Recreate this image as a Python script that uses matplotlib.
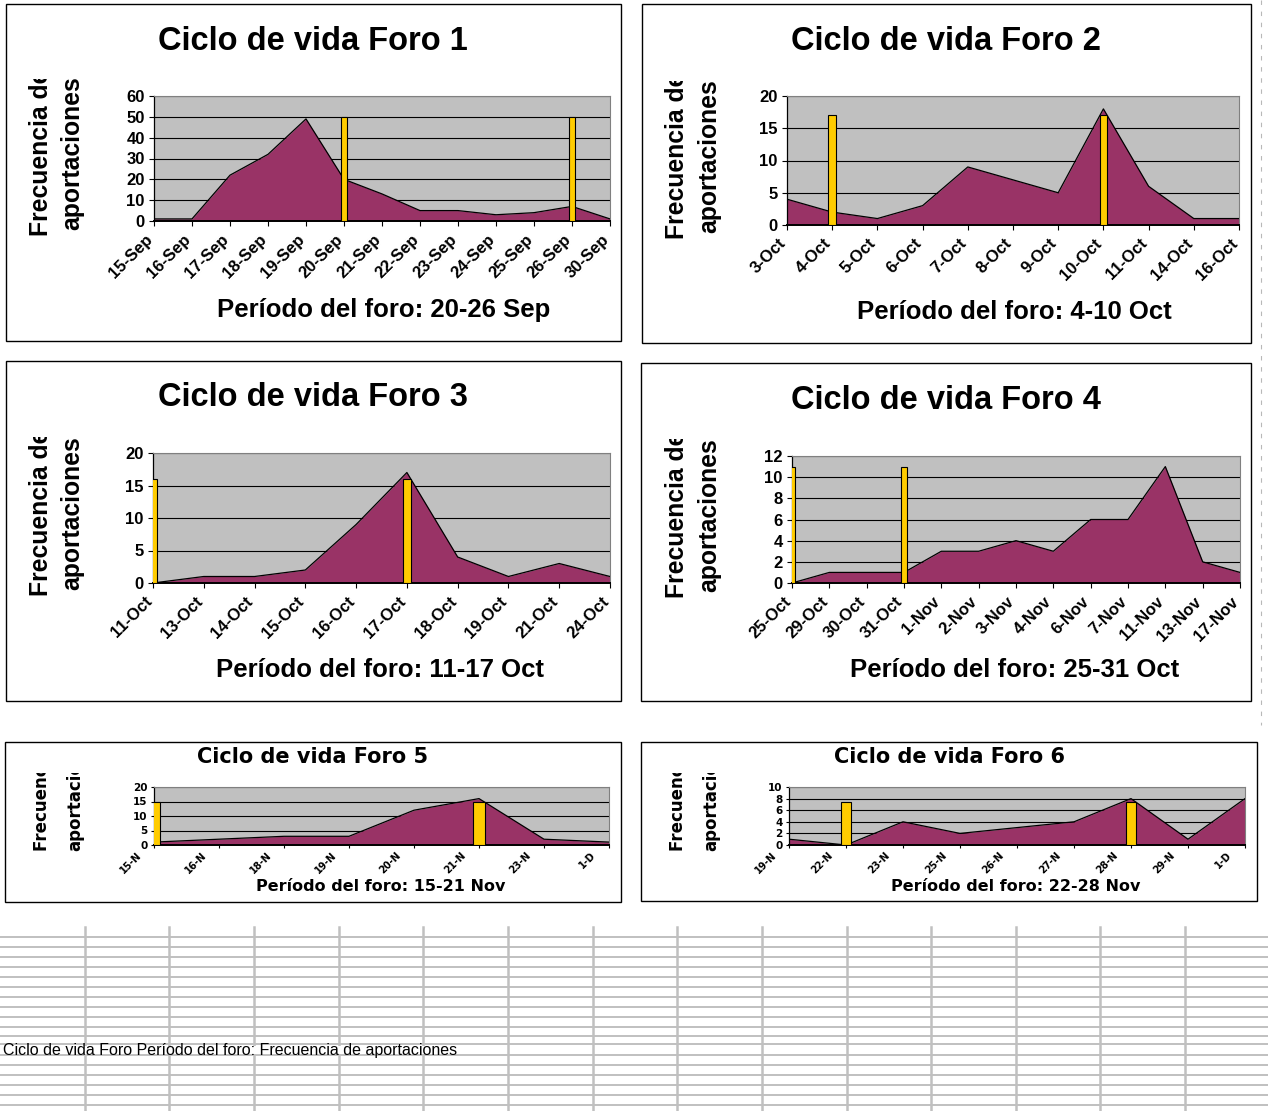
import numpy as np
import matplotlib.pyplot as plt
from matplotlib.patches import Rectangle
from matplotlib.transforms import Bbox, TransformedBbox, ScaledTranslation

foro1_fechas = ['15-Sep', '16-Sep', '17-Sep', '18-Sep', '19-Sep', '20-Sep', '21-Sep',
                '22-Sep', '23-Sep', '24-Sep', '25-Sep', '26-Sep', '30-Sep']
foro1_aportes = [1, 1, 22, 32, 49, 20, 13, 5, 5, 3, 4, 7, 1]
foro1_limites = ['20-Sep', '26-Sep']
foro1_alto = 50

foro2_fechas = ['3-Oct', '4-Oct', '5-Oct', '6-Oct', '7-Oct', '8-Oct', '9-Oct',
                '10-Oct', '11-Oct', '14-Oct', '16-Oct']
foro2_aportes = [4, 2, 1, 3, 9, 7, 5, 18, 6, 1, 1]
foro2_limites = ['4-Oct', '10-Oct']
foro2_alto = 17

foro3_fechas = ['11-Oct', '13-Oct', '14-Oct', '15-Oct', '16-Oct', '17-Oct', '18-Oct',
                '19-Oct', '21-Oct', '24-Oct']
foro3_aportes = [0, 1, 1, 2, 9, 17, 4, 1, 3, 1]
foro3_limites = ['11-Oct', '17-Oct']
foro3_alto = 16

foro4_fechas = ['25-Oct', '29-Oct', '30-Oct', '31-Oct', '1-Nov', '2-Nov', '3-Nov',
                '4-Nov', '6-Nov', '7-Nov', '11-Nov', '13-Nov', '17-Nov']
foro4_aportes = [0, 1, 1, 1, 3, 3, 4, 3, 6, 6, 11, 2, 1]
foro4_limites = ['25-Oct', '31-Oct']
foro4_alto = 11

foro5_fechas = ['15-N', '16-N', '18-N', '19-N', '20-N', '21-N', '23-N', '1-D']
foro5_aportes = [1, 2, 3, 3, 12, 16, 2, 1]
foro5_limites = ['15-N', '21-N']
foro5_alto = 15

foro6_fechas = ['19-N', '22-N', '23-N', '25-N', '26-N', '27-N', '28-N', '29-N', '1-D']
foro6_aportes = [1, 0, 4, 2, 3, 4, 8, 1, 8]
foro6_limites = ['22-N', '28-N']
foro6_alto = 7.5

W, H = 1268, 1111
fig = plt.figure(figsize=(W / 100, H / 100), dpi=100)
fondo = fig.add_axes([0, 0, 1, 1], zorder=0)
fondo.set_xlim(0, W)
fondo.set_ylim(H, 0)
fondo.axis('off')

ARIAL = ['Liberation Sans', 'DejaVu Sans']
ANCHA = ['DejaVu Sans']

# hoja de calculo de fondo
filas = np.r_[np.arange(937, 1028, 10), 1036, 1044, np.arange(1055, 1110, 10)]
for y in filas:
    fondo.plot([0, W], [y, y], color='#c0c0c0', lw=1.4, zorder=1)
for x in np.arange(1, 15) * 84.65:
    fondo.plot([x, x], [927, H], color='#c0c0c0', lw=1.8, zorder=1)
fondo.add_patch(Rectangle((0, 1045.5), 506, 8.5, color='white', lw=0, zorder=2))
fondo.text(3, 1050, 'Ciclo de vida Foro Período del foro: Frecuencia de aportaciones',
           fontsize=11.5, va='center', family=ARIAL, zorder=3)
fondo.plot([1261, 1261], [0, 725], color='#b8b8b8', lw=0.8, ls=(0, (4, 6)), zorder=1)


def recorte(y0, y1):
    return TransformedBbox(Bbox.from_extents(0, 1 - y1 / H, 1, 1 - y0 / H), fig.transFigure)


def grafico(fechas, aportes, limites, alto, ymax, paso, titulo, periodo, caja, area, lay):
    x0, y0, x1, y1 = caja
    fondo.add_patch(Rectangle((x0, y0), x1 - x0, y1 - y0, fill=False, ec='black', lw=1.0))
    l, t, r, b = area
    ax = fig.add_axes([l / W, 1 - b / H, (r - l) / W, (b - t) / H], zorder=2)
    ax.set_facecolor('#c0c0c0')
    x = np.arange(len(fechas))
    ax.fill_between(x, aportes, color='#993366', lw=0, zorder=2)
    ax.plot(x, aportes, color='black', lw=0.9, zorder=3)
    xb = [fechas.index(f) for f in limites]
    ax.bar(xb, [alto] * len(xb), width=0.17, color='#ffcc00', ec='black', lw=0.8, zorder=4)
    ax.set_xlim(0, len(fechas) - 1)
    ax.set_ylim(0, ymax)
    yt = np.arange(0, ymax + paso / 2, paso)
    ax.set_yticks(yt, labels=[str(int(v)) for v in yt], fontweight='bold',
                  fontsize=lay['ytick'], family=lay['fam'])
    ax.set_xticks(x, labels=fechas, rotation=45, ha='right', rotation_mode='anchor',
                  fontweight='bold', fontsize=lay['xtick'], family=lay['fam'])
    ax.yaxis.grid(True, color='black', lw=0.8)
    ax.set_axisbelow(True)
    ax.tick_params(direction='out', length=lay['tl'], width=0.8, colors='black')
    ax.tick_params(axis='x', pad=lay['xpad'])
    ax.tick_params(axis='y', pad=lay['ypad'])
    # corrimiento de las fechas para que queden como en excel
    off = ScaledTranslation(lay['dx'] / 100, lay['dy'] / 100, fig.dpi_scale_trans)
    for lab in ax.get_xticklabels():
        lab.set_transform(lab.get_transform() + off)
    for s in ['top', 'right']:
        ax.spines[s].set_color('#808080')
        ax.spines[s].set_linewidth(0.8)
    ax.spines['left'].set_linewidth(0.9)
    ax.spines['bottom'].set_linewidth(1.4)

    fondo.text(lay['tit'][0], lay['tit'][1], titulo, ha='center', va='baseline',
               fontsize=lay['ftit'], fontweight='bold', family=lay['fam'])
    fondo.text(lay['per'][0], lay['per'][1], periodo, ha='center', va='baseline',
               fontsize=lay['fper'], fontweight='bold', family=lay['fam'])
    # etiqueta del eje y en dos lineas, cortada arriba como en la hoja
    for xe, txt in zip(lay['ylx'], ['Frecuencia de', 'aportaciones']):
        e = fondo.text(xe, lay['yly'], txt, rotation=90, ha='center', va=lay['ylva'],
                       fontsize=lay['fyl'], fontweight='bold', family=lay['fam'])
        e.set_clip_box(recorte(lay['corte'], y1))
        e.set_clip_on(True)
    return ax


grande = dict(fam=ARIAL, ytick=12, xtick=12, tl=3.6, xpad=5, ypad=3, dx=-9, dy=1,
              ftit=23.5, fper=18.5, fyl=17.8, ylva='center')
chica = dict(fam=ANCHA, ytick=7.5, xtick=7, tl=2.5, xpad=2, ypad=2, dx=-18, dy=1,
             ftit=15, fper=11.5, fyl=12, ylva='bottom')

grafico(foro1_fechas, foro1_aportes, foro1_limites, foro1_alto, 60, 10,
        'Ciclo de vida Foro 1', 'Período del foro: 20-26 Sep',
        (6, 4, 621, 341), (154, 96, 610, 221),
        dict(grande, tit=(313, 50), per=(384, 317), ylx=(41, 72), yly=153, corte=79))
grafico(foro2_fechas, foro2_aportes, foro2_limites, foro2_alto, 20, 5,
        'Ciclo de vida Foro 2', 'Período del foro: 4-10 Oct',
        (642, 4, 1251, 343), (787, 96, 1239, 225),
        dict(grande, tit=(946, 50), per=(1014, 319), ylx=(677, 709), yly=156, corte=81))
grafico(foro3_fechas, foro3_aportes, foro3_limites, foro3_alto, 20, 5,
        'Ciclo de vida Foro 3', 'Período del foro: 11-17 Oct',
        (6, 361, 621, 701), (153, 453, 610, 583),
        dict(grande, tit=(313, 406), per=(380, 677), ylx=(41, 72), yly=513, corte=437))
grafico(foro4_fechas, foro4_aportes, foro4_limites, foro4_alto, 12, 2,
        'Ciclo de vida Foro 4', 'Período del foro: 25-31 Oct',
        (641, 363, 1251, 701), (792, 456, 1240, 583),
        dict(grande, tit=(946, 409), per=(1015, 677), ylx=(677, 709), yly=515, corte=439))
grafico(foro5_fechas, foro5_aportes, foro5_limites, foro5_alto, 20, 5,
        'Ciclo de vida Foro 5', 'Período del foro: 15-21 Nov',
        (5, 742, 621, 902), (154, 787, 609, 845),
        dict(chica, tit=(313, 763), per=(381, 891), ylx=(42, 75), yly=851, corte=773))
grafico(foro6_fechas, foro6_aportes, foro6_limites, foro6_alto, 10, 2,
        'Ciclo de vida Foro 6', 'Período del foro: 22-28 Nov',
        (641, 742, 1257, 901), (789, 787, 1245, 845),
        dict(chica, tit=(950, 763), per=(1016, 891), ylx=(678, 711), yly=851, corte=773))

fig.savefig('out.png', dpi=100)
